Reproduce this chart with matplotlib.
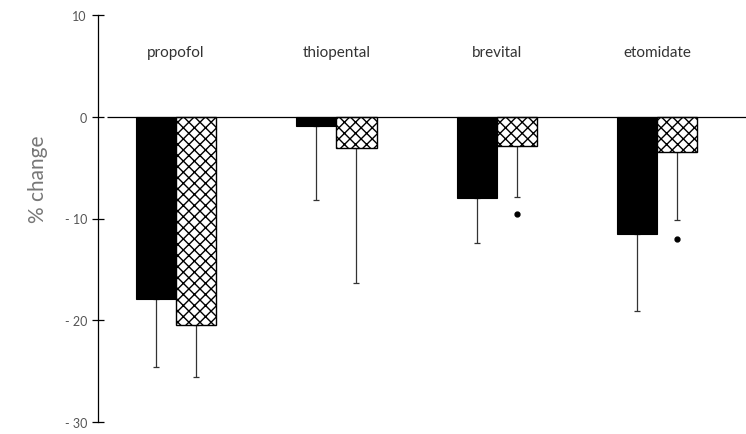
import numpy as np
import matplotlib
matplotlib.use("Agg")
import matplotlib.pyplot as plt

# values (% change)
drugs = ["propofol", "thiopental", "brevital", "etomidate"]
solid_vals = [-17.9, -0.95, -8.0, -11.5]
solid_err = [6.7, 7.2, 4.4, 7.6]          # downward SD
hatch_vals = [-20.5, -3.1, -2.9, -3.5]
hatch_err = [5.1, 13.2, 5.0, 6.6]
dot_vals = [np.nan, np.nan, -9.6, -12.0]  # significance marks under hatched bars
yticks = [-30, -20, -10, 0, 10]
ytick_labels = ["- 30", "- 20", "- 10", "0", "10"]

plt.rcParams["font.family"] = ["Lato", "DejaVu Sans"]
plt.rcParams["hatch.linewidth"] = 1.0

W, H, DPI = 746, 435, 100
fig = plt.figure(figsize=(W / DPI, H / DPI), dpi=DPI)
ax = fig.add_axes([98 / W, 1 - 423 / H, 1 - 98 / W, (423 - 16) / H])

x = np.arange(len(drugs))
bw = 0.25
ax.bar(x - bw / 2, solid_vals, bw, color="black", edgecolor="black", lw=0.8, zorder=2)
ax.bar(x + bw / 2, hatch_vals, bw, color="white", edgecolor="black", hatch="xxx",
       lw=1.0, zorder=2)
ax.errorbar(x - bw / 2, solid_vals, yerr=[solid_err, np.zeros(4)], fmt="none",
            ecolor="#333333", elinewidth=0.9, capsize=2.5, capthick=0.9, zorder=1)
ax.errorbar(x + bw / 2, hatch_vals, yerr=[hatch_err, np.zeros(4)], fmt="none",
            ecolor="#333333", elinewidth=0.9, capsize=2.5, capthick=0.9, zorder=1)
ax.plot(x + bw / 2, dot_vals, "o", color="black", ms=3.5, zorder=3)

for xi, name in zip(x, drugs):
    ax.text(xi, 6.4, name, ha="center", va="center", fontsize=11, color="#333333")

xl, xr = -78 / 160.4, (746 - 176) / 160.4
ax.set_xlim(xl, xr)
ax.set_ylim(-30, 10)
ax.hlines(0, -69 / 160.4, xr, color="black", lw=0.9, zorder=3)

for s in ["top", "right", "bottom"]:
    ax.spines[s].set_visible(False)
ax.spines["left"].set_linewidth(0.9)
ax.set_xticks([])
ax.set_yticks(yticks)
ax.set_yticklabels(ytick_labels, fontsize=9, color="#555555")
ax.tick_params(axis="y", direction="inout", length=8, width=0.9, pad=4)
ax.set_ylabel("% change", fontsize=15, color="#777777")
ax.yaxis.set_label_coords(-50 / 648, 0.6)

fig.savefig("out.png", dpi=DPI)
